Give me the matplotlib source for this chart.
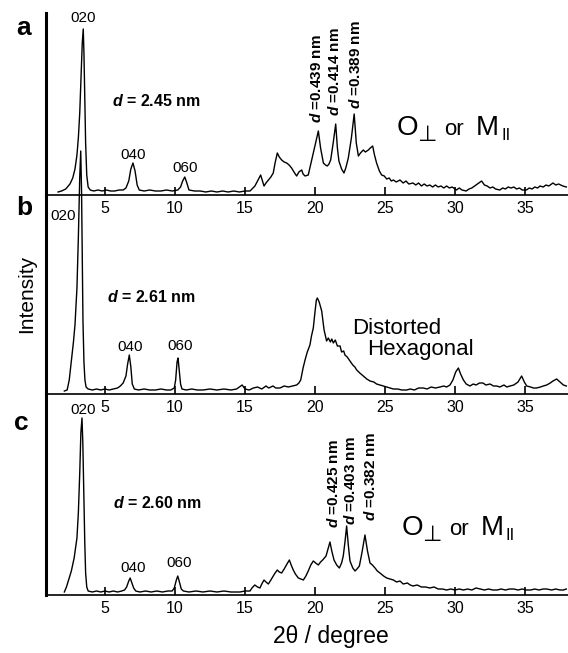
import matplotlib
matplotlib.use('Agg')
import matplotlib.pyplot as plt

plt.rcParams['font.family'] = ['Liberation Sans', 'DejaVu Sans']
plt.rcParams['mathtext.fontset'] = 'custom'
plt.rcParams['mathtext.it'] = 'Liberation Sans:italic:bold'
plt.rcParams['mathtext.rm'] = 'Liberation Sans'

# ---- data (2theta in degree, intensity in a.u.) ----
a_x = [1.65, 1.9, 2.2, 2.5, 2.7, 2.86, 3.0, 3.1, 3.2, 3.3, 3.38, 3.45, 3.5, 3.56, 3.62, 3.7, 3.8, 3.95,
       4.2, 4.5, 4.8, 5.1, 5.4, 5.7, 6.0, 6.3, 6.5, 6.7, 6.85, 7.0, 7.15, 7.3, 7.45, 7.8, 8.2, 8.6, 9.0,
       9.4, 9.8, 10.2, 10.4, 10.55, 10.7, 10.85, 11.0, 11.4, 11.8, 12.2, 12.6, 13.0, 13.4, 13.8, 14.2,
       14.6, 15.0, 15.36, 15.71, 15.9, 16.12, 16.36, 16.5, 16.67, 16.85, 17.02, 17.15, 17.31, 17.45,
       17.62, 17.8, 17.98, 18.15, 18.33, 18.5, 18.69, 18.85, 19.05, 19.15, 19.29, 19.52, 19.65, 19.76,
       20.0, 20.24, 20.4, 20.6, 20.75, 20.88, 21.0, 21.12, 21.3, 21.48, 21.6, 21.71, 21.9, 22.07, 22.2,
       22.38, 22.6, 22.8, 22.95, 23.1, 23.25, 23.45, 23.6, 23.81, 23.95, 24.12, 24.25, 24.4, 24.6,
       24.76, 24.95, 25.12, 25.3, 25.45, 25.6, 25.8, 26.07, 26.3, 26.5, 26.7, 27.0, 27.2, 27.4, 27.6,
       27.8, 28.0, 28.2, 28.4, 28.6, 28.8, 29.0, 29.2, 29.4, 29.6, 29.8, 30.1, 30.3, 30.5, 30.8, 31.0,
       31.2, 31.4, 31.6, 31.9, 32.1, 32.3, 32.5, 32.7, 32.9, 33.2, 33.4, 33.6, 33.8, 34.0, 34.2, 34.4,
       34.6, 34.8, 35.1, 35.3, 35.5, 35.7, 35.9, 36.07, 36.3, 36.5, 36.7, 37.0, 37.2, 37.4, 37.7, 37.95]
a_y = [1, 2, 4, 9, 15, 24, 38, 55, 80, 120, 150, 164, 140, 95, 50, 18, 6, 3,
       2, 3, 2, 3, 2, 2, 3, 3, 5, 12, 24, 30, 22, 8, 3, 2, 3, 2, 2,
       3, 2, 3, 6, 12, 16, 10, 3, 2, 2, 1, 2, 1, 2, 1, 2,
       1, 2, 2, 7, 12, 18, 7, 10, 13, 16, 20, 30, 40, 36,
       33, 31, 30, 28, 25, 21, 17, 21, 23, 19, 17, 18, 26, 33,
       48, 62, 45, 30, 28, 27, 29, 33, 50, 69, 45, 32, 24, 20, 25,
       35, 55, 79, 50, 37, 40, 43, 41, 43, 45, 47, 38, 30, 22,
       18, 17, 14, 15, 12, 13, 11, 13, 10, 12, 9, 10, 8, 10, 7,
       9, 7, 8, 6, 8, 6, 7, 5, 7, 5, 6, 3, 5, 3, 2, 4,
       5, 7, 9, 12, 8, 7, 5, 6, 4, 3, 5, 4, 6, 5, 6, 4,
       5, 3, 3, 5, 4, 6, 5, 7, 6, 8, 7, 10, 8, 9, 7, 6]

b_x = [2.1, 2.3, 2.45, 2.6, 2.75, 2.86, 3.0, 3.1, 3.2, 3.27, 3.33, 3.43, 3.5, 3.57, 3.65, 3.8, 4.1,
       4.4, 4.7, 5.0, 5.3, 5.6, 5.9, 6.1, 6.3, 6.5, 6.62, 6.74, 6.85, 6.95, 7.1, 7.4, 7.8, 8.2, 8.6,
       9.0, 9.4, 9.7, 9.95, 10.05, 10.15, 10.22, 10.3, 10.4, 10.5, 10.8, 11.2, 11.6, 12.0, 12.5, 13.0,
       13.5, 14.0, 14.4, 14.6, 14.8, 15.0, 15.3, 15.6, 15.9, 16.2, 16.5, 16.7, 17.0, 17.2, 17.5, 17.8,
       18.1, 18.4, 18.69, 18.85, 18.98, 19.15, 19.29, 19.45, 19.64, 19.75, 19.88, 20.0, 20.1, 20.17,
       20.3, 20.48, 20.65, 20.83, 20.95, 21.1, 21.2, 21.31, 21.45, 21.6, 21.79, 21.9, 22.05, 22.14,
       22.3, 22.5, 22.7, 22.85, 22.98, 23.2, 23.45, 23.7, 23.93, 24.2, 24.4, 24.64, 24.9, 25.1, 25.36,
       25.6, 25.9, 26.2, 26.55, 26.8, 27.1, 27.4, 27.74, 28.0, 28.3, 28.6, 28.93, 29.2, 29.4, 29.64,
       29.85, 30.05, 30.24, 30.4, 30.6, 30.8, 31.07, 31.3, 31.5, 31.75, 32.0, 32.2, 32.5, 32.75, 32.98,
       33.2, 33.5, 33.7, 33.93, 34.2, 34.5, 34.76, 34.95, 35.12, 35.4, 35.6, 35.83, 36.1, 36.3, 36.55,
       36.8, 37.0, 37.26, 37.5, 37.74, 37.95]
b_y = [1, 2, 12, 31, 50, 67, 104, 154, 215, 241, 200, 71, 30, 12, 5, 3, 2,
       3, 2, 3, 2, 3, 4, 6, 9, 16, 28, 37, 25, 8, 3, 2, 3, 2, 2,
       3, 2, 2, 4, 12, 30, 34, 22, 8, 3, 2, 3, 2, 2, 3, 2,
       3, 2, 3, 5, 7, 3, 2, 4, 5, 3, 6, 4, 6, 4, 4, 6,
       5, 6, 7, 9, 12, 24, 32, 40, 47, 56, 64, 80, 92, 94,
       90, 81, 62, 51, 54, 50, 53, 49, 52, 46, 46, 40, 41, 37,
       35, 31, 27, 25, 22, 19, 16, 13, 11, 10, 8, 7, 6, 5, 4,
       3, 3, 2, 2, 3, 2, 4, 4, 3, 5, 4, 5, 6, 5, 7,
       12, 20, 24, 18, 12, 8, 6, 8, 7, 9, 9, 7, 8, 6, 6,
       5, 7, 5, 6, 7, 10, 16, 10, 6, 5, 4, 4, 5, 6, 7,
       9, 11, 13, 10, 7, 6]

c_x = [2.1, 2.25, 2.4, 2.6, 2.8, 3.0, 3.1, 3.2, 3.28, 3.36, 3.42, 3.5, 3.56, 3.62, 3.7, 3.8, 4.1,
       4.4, 4.7, 5.0, 5.3, 5.6, 5.9, 6.2, 6.4, 6.55, 6.7, 6.8, 6.9, 7.05, 7.2, 7.5, 7.9, 8.3, 8.7, 9.1,
       9.5, 9.8, 9.95, 10.1, 10.2, 10.3, 10.45, 10.6, 11.0, 11.5, 12.0, 12.5, 13.0, 13.5, 14.0, 14.64,
       15.0, 15.36, 15.5, 15.7, 15.9, 16.07, 16.2, 16.36, 16.5, 16.67, 16.85, 17.02, 17.15, 17.31,
       17.45, 17.62, 17.8, 18.0, 18.17, 18.3, 18.45, 18.6, 18.81, 19.0, 19.17, 19.35, 19.52, 19.7,
       19.88, 20.05, 20.24, 20.4, 20.55, 20.79, 20.95, 21.07, 21.2, 21.36, 21.55, 21.74, 21.9, 22.02,
       22.15, 22.26, 22.38, 22.5, 22.7, 22.86, 23.0, 23.17, 23.35, 23.57, 23.75, 23.93, 24.1, 24.29,
       24.45, 24.64, 24.9, 25.12, 25.35, 25.6, 25.83, 26.07, 26.3, 26.6, 26.8, 27.0, 27.3, 27.6, 27.9,
       28.2, 28.5, 28.8, 29.1, 29.4, 29.7, 30.0, 30.3, 30.6, 30.9, 31.2, 31.5, 31.8, 32.1, 32.4, 32.7,
       33.0, 33.3, 33.6, 33.9, 34.2, 34.5, 34.8, 35.1, 35.4, 35.7, 36.0, 36.3, 36.55, 36.9, 37.2, 37.5,
       37.74, 37.95]
c_y = [1, 6, 13, 22, 35, 55, 80, 120, 160, 175, 150, 90, 50, 20, 6, 2, 1,
       2, 1, 2, 1, 2, 1, 2, 3, 6, 12, 15, 11, 5, 2, 1, 2, 1, 2, 1,
       2, 2, 5, 13, 17, 12, 4, 2, 1, 2, 1, 2, 1, 2, 1, 1,
       2, 2, 5, 8, 6, 5, 9, 13, 11, 9, 13, 17, 20, 23,
       21, 20, 24, 29, 33, 28, 23, 19, 15, 14, 13, 17, 22, 28,
       32, 30, 28, 31, 33, 37, 45, 51, 42, 33, 28, 25, 30, 37,
       52, 67, 48, 32, 25, 22, 24, 27, 40, 58, 42, 30, 28, 25,
       22, 20, 17, 15, 14, 13, 11, 12, 9, 10, 8, 7, 8, 6, 6,
       5, 6, 4, 4, 3, 4, 3, 4, 3, 4, 3, 5, 4, 3, 4, 3,
       3, 4, 3, 4, 4, 3, 4, 3, 3, 4, 3, 4, 4, 3, 4, 3,
       3, 4]

ticks = [5, 10, 15, 20, 25, 30, 35]
peak_labels = ['020', '040', '060']
d_labels_a = ['0.439', '0.414', '0.389']
d_labels_c = ['0.425', '0.403', '0.382']

W, H = 568, 653
fig = plt.figure(figsize=(W / 100, H / 100), dpi=100)


def make_axes(top, bottom):
    ax = fig.add_axes([46 / W, 1 - bottom / H, 1 - 46 / W, (bottom - top) / H])
    ax.set_xlim(0.79, 38.07)
    ax.set_ylim(-2, bottom - top - 2)
    ax.patch.set_visible(False)
    for s in ['top', 'right']:
        ax.spines[s].set_visible(False)
    ax.spines['left'].set_linewidth(2.2)
    ax.spines['bottom'].set_linewidth(1.2)
    ax.set_yticks([])
    ax.set_xticks(ticks)
    ax.tick_params(axis='x', direction='in', length=6, width=1.2, pad=4, labelsize=11.5)
    return ax


def phase_label(ax, x, y):
    # O(perp) or M(parallel), pieces placed one after another
    parts = [('O', 0, 0, 20), ('\u22a5', 14.5, -4.5, 16), ('or', 34, 0, 16), ('M', 57, 0, 20), ('II', 75, -3.5, 12)]
    for s, dx, dy, fs in parts:
        ax.annotate(s, (x, y), xytext=(dx, dy), textcoords='offset points',
                    fontsize=fs, va='baseline', ha='left', annotation_clip=False)


ax_a = make_axes(13, 195)
ax_b = make_axes(195, 394)
ax_c = make_axes(394, 595)

lw = 1.0
ax_a.plot(a_x, a_y, color='black', lw=lw, zorder=3)
ax_b.plot(b_x, b_y, color='black', lw=lw, clip_on=False, zorder=5)
ax_c.plot(c_x, c_y, color='black', lw=lw, zorder=3)

# panel a
ax_a.text(3.43, 175, peak_labels[0], ha='center', va='center', fontsize=11)
ax_a.text(7.0, 38, peak_labels[1], ha='center', va='center', fontsize=11)
ax_a.text(10.71, 25, peak_labels[2], ha='center', va='center', fontsize=11)
ax_a.text(8.7, 92, r'$d$ = 2.45 nm', ha='center', va='center', fontsize=11.5, fontweight='bold')
for xp, yp, lab in zip([20.1, 21.4, 22.86], [70, 77, 84], d_labels_a):
    ax_a.text(xp, yp, r'$d$ =' + lab + ' nm', rotation=90, ha='center', va='bottom',
              fontsize=11, fontweight='bold')
phase_label(ax_a, 25.86, 58)

# panel b
ax_b.text(2.0, 176, peak_labels[0], ha='center', va='center', fontsize=11)
ax_b.text(6.8, 45, peak_labels[1], ha='center', va='center', fontsize=11)
ax_b.text(10.36, 46, peak_labels[2], ha='center', va='center', fontsize=11)
ax_b.text(8.3, 95, r'$d$ = 2.61 nm', ha='center', va='center', fontsize=11.5, fontweight='bold')
ax_b.text(22.64, 58, 'Distorted', ha='left', va='baseline', fontsize=16)
ax_b.text(23.71, 37, 'Hexagonal', ha='left', va='baseline', fontsize=16)

# panel c
ax_c.text(3.43, 183, peak_labels[0], ha='center', va='center', fontsize=11)
ax_c.text(7.0, 25, peak_labels[1], ha='center', va='center', fontsize=11)
ax_c.text(10.29, 30, peak_labels[2], ha='center', va='center', fontsize=11)
ax_c.text(8.71, 90, r'$d$ = 2.60 nm', ha='center', va='center', fontsize=11.5, fontweight='bold')
for xp, yp, lab in zip([21.3, 22.57, 23.93], [65, 68, 72], d_labels_c):
    ax_c.text(xp, yp, r'$d$ =' + lab + ' nm', rotation=90, ha='center', va='bottom',
              fontsize=11, fontweight='bold')
phase_label(ax_c, 26.2, 58)

# panel letters and axis titles
for lab, (px, py) in zip(['a', 'b', 'c'], [(24, 28), (24, 208), (21, 423)]):
    fig.text(px / W, 1 - py / H, lab, ha='center', va='center', fontsize=19, fontweight='bold')
fig.text(27 / W, 1 - 294 / H, 'Intensity', rotation=90, ha='center', va='center', fontsize=15)
fig.text(331 / W, 1 - 637 / H, '2\u03b8 / degree', ha='center', va='center', fontsize=16.5)

fig.savefig('out.png', dpi=100)
plt.close()
